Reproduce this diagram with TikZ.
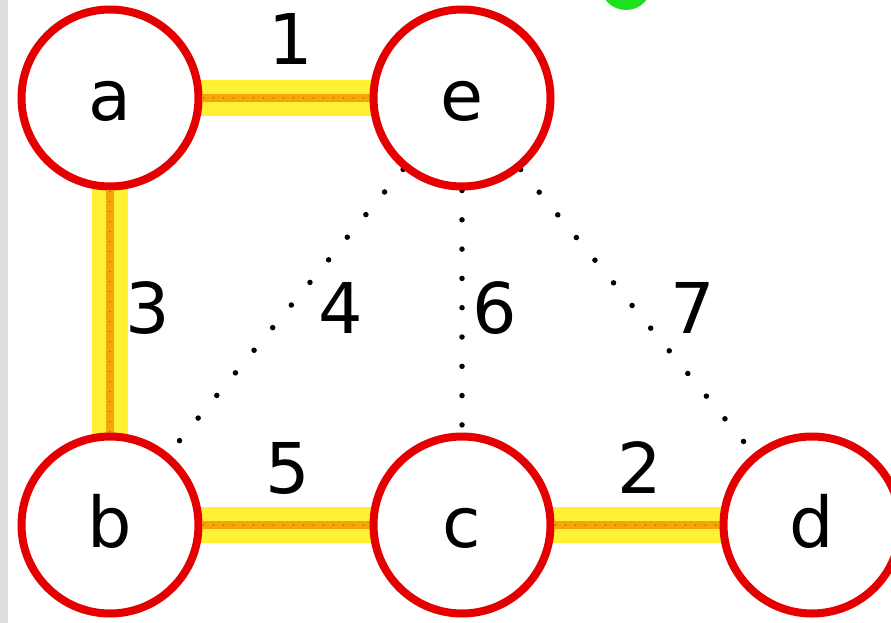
\documentclass[tikz,border=0pt]{standalone}
\usepackage{fontspec}
\setmainfont{DejaVu Sans}
\usetikzlibrary{backgrounds}
\definecolor{nodered}{RGB}{228,0,0}
\definecolor{hiyellow}{RGB}{255,240,50}
\definecolor{hiorange}{RGB}{245,165,10}
\definecolor{dotorange}{RGB}{200,115,0}
\definecolor{leafgreen}{RGB}{30,225,30}
\definecolor{edgegrey}{RGB}{222,222,222}

\begin{document}
\begin{tikzpicture}[x=1pt,y=-1pt,
  vertex/.style={circle,draw=nodered,line width=8pt,fill=white,
    minimum size=177pt,inner sep=0pt,text height=45pt,text depth=0pt,
    font=\fontsize{70}{80}\selectfont},
  weight/.style={anchor=base,inner sep=0pt,font=\fontsize{70}{80}\selectfont},
  treeedge/.style={line width=36pt,hiyellow,line cap=round},
  treecore/.style={line width=8pt,hiorange},
  treedots/.style={line width=1.5pt,dotorange,dash pattern=on 1pt off 9pt},
  otheredge/.style={line width=5.5pt,black,line cap=round,dash pattern=on 0pt off 29.3pt}]
\useasboundingbox (0,0) rectangle (891,623);

% vertices
\node[vertex] (a) at (110,98) {a};
\node[vertex] (e) at (462,98) {e};
\node[vertex] (b) at (110,525) {b};
\node[vertex] (c) at (462,525) {c};
\node[vertex] (d) at (812,525) {d};

% edge weights
\node[weight] (w1) at (291,65) {1};
\node[weight] (w3) at (148,333) {3};
\node[weight] (w4) at (341,333) {4};
\node[weight] (w6) at (495,333) {6};
\node[weight] (w7) at (693,333) {7};
\node[weight] (w5) at (288,493) {5};
\node[weight] (w2) at (640,493) {2};

\begin{pgfonlayer}{background}
  \fill[white] (0,0) rectangle (891,623);
  \fill[edgegrey] (0,0) rectangle (8,623);
  \fill[leafgreen] (626,-16) circle[radius=26pt];

  % edges not in the spanning tree
  \draw[otheredge] (e) -- (b);
  \draw[otheredge] (e) -- (c);
  \draw[otheredge] (e) -- (d);

  % spanning tree edges, highlighted
  \foreach \u/\v in {a/e,a/b,b/c,c/d}{
    \draw[treeedge] (\u) -- (\v);
    \draw[treecore] (\u) -- (\v);
    \draw[treedots] (\u) -- (\v);
  }
\end{pgfonlayer}
\end{tikzpicture}
\end{document}
